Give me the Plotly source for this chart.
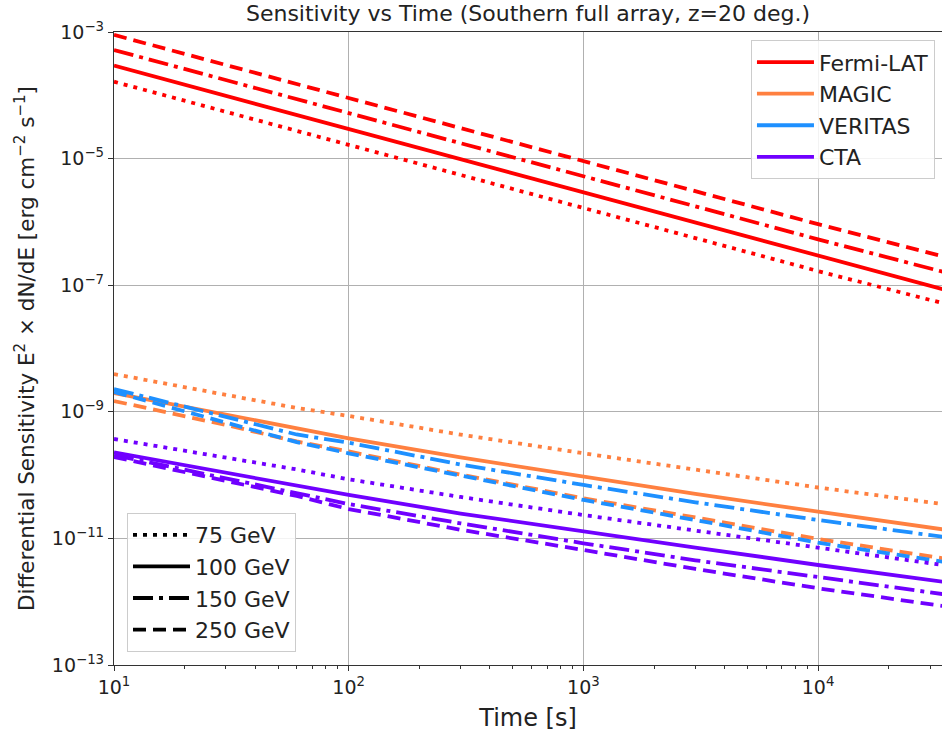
import plotly.graph_objects as go

# Observation time [s]
time_s = [10, 30, 60, 100, 300, 1000, 3000, 10000, 34000]

# Fermi-LAT
fermi_75 = [1.64e-4, 5.5e-5, 2.75e-5, 1.65e-5, 5.5e-6, 1.66e-6, 5.55e-7, 1.67e-7, 5.2e-8]
fermi_100 = [2.94e-4, 9.8e-5, 4.9e-5, 2.94e-5, 9.8e-6, 2.94e-6, 9.8e-7, 2.94e-7, 8.65e-8]
fermi_150 = [5.2e-4, 1.74e-4, 8.7e-5, 5.2e-5, 1.75e-5, 5.25e-6, 1.76e-6, 5.3e-7, 1.63e-7]
fermi_250 = [9.0e-4, 3.0e-4, 1.5e-4, 9.0e-5, 3.0e-5, 9.1e-6, 3.05e-6, 9.2e-7, 2.85e-7]

# MAGIC
magic_75 = [3.95e-9, 1.84e-9, 1.15e-9, 8.6e-10, 4.36e-10, 2.21e-10, 1.24e-10, 6.37e-11, 3.49e-11]
magic_100 = [1.98e-9, 8.9e-10, 5.35e-10, 3.81e-10, 1.90e-10, 9.5e-11, 5.03e-11, 2.64e-11, 1.39e-11]
magic_250 = [1.48e-9, 6.18e-10, 3.40e-10, 2.36e-10, 1.02e-10, 4.30e-11, 2.14e-11, 9.8e-12, 4.85e-12]

# VERITAS
veritas_150 = [2.29e-9, 8.37e-10, 4.38e-10, 3.25e-10, 1.47e-10, 6.98e-11, 3.72e-11, 1.95e-11, 1.06e-11]
veritas_250 = [2.06e-9, 6.65e-10, 3.33e-10, 2.21e-10, 9.7e-11, 4.05e-11, 1.95e-11, 8.55e-12, 4.28e-12]

# CTA
cta_75 = [3.72e-10, 1.88e-10, 1.23e-10, 8.59e-11, 4.51e-11, 2.34e-11, 1.32e-11, 6.98e-12, 3.80e-12]
cta_100 = [2.28e-10, 1.08e-10, 6.73e-11, 4.85e-11, 2.47e-11, 1.28e-11, 7.18e-12, 3.80e-12, 2.07e-12]
cta_150 = [2.08e-10, 8.83e-11, 5.21e-11, 3.49e-11, 1.73e-11, 8.37e-12, 4.51e-12, 2.43e-12, 1.32e-12]
cta_250 = [1.93e-10, 8.07e-11, 4.68e-11, 2.91e-11, 1.37e-11, 6.56e-12, 3.29e-12, 1.63e-12, 8.55e-13]

instruments = ["Fermi-LAT", "MAGIC", "VERITAS", "CTA"]
energies = ["75 GeV", "100 GeV", "150 GeV", "250 GeV"]

x_tick_vals = [10, 100, 1000, 10000]
x_tick_text = ["10<sup>1</sup>", "10<sup>2</sup>", "10<sup>3</sup>", "10<sup>4</sup>"]
y_tick_vals = [1e-3, 1e-5, 1e-7, 1e-9, 1e-11, 1e-13]
y_tick_text = ["10<sup>−3</sup>", "10<sup>−5</sup>", "10<sup>−7</sup>",
               "10<sup>−9</sup>", "10<sup>−11</sup>", "10<sup>−13</sup>"]

colors = {"Fermi-LAT": "#ff0000", "MAGIC": "#ff8040",
          "VERITAS": "#1e90ff", "CTA": "#7000ff"}
dashes = {"75 GeV": "4px,6px", "100 GeV": "solid",
          "150 GeV": "20px,6px,4px,6px", "250 GeV": "13px,7px"}

series = [
    ("Fermi-LAT", "75 GeV", fermi_75), ("Fermi-LAT", "100 GeV", fermi_100),
    ("Fermi-LAT", "150 GeV", fermi_150), ("Fermi-LAT", "250 GeV", fermi_250),
    ("MAGIC", "75 GeV", magic_75), ("MAGIC", "100 GeV", magic_100),
    ("MAGIC", "250 GeV", magic_250),
    ("VERITAS", "150 GeV", veritas_150), ("VERITAS", "250 GeV", veritas_250),
    ("CTA", "75 GeV", cta_75), ("CTA", "100 GeV", cta_100),
    ("CTA", "150 GeV", cta_150), ("CTA", "250 GeV", cta_250),
]

LW = 3.8
fig = go.Figure()
for inst, en, vals in series:
    fig.add_trace(go.Scatter(x=time_s, y=vals, mode="lines",
                             line=dict(color=colors[inst], width=LW, dash=dashes[en]),
                             showlegend=False, name=f"{inst} {en}"))

for inst in instruments:
    fig.add_trace(go.Scatter(x=[None], y=[None], mode="lines", name=inst,
                             line=dict(color=colors[inst], width=LW),
                             legend="legend", legendgroup=inst))
for en in energies:
    fig.add_trace(go.Scatter(x=[None], y=[None], mode="lines", name=en,
                             line=dict(color="black", width=LW, dash=dashes[en]),
                             legend="legend2", legendgroup=en))

minor_x = [v * m for v in [10, 100, 1000, 10000] for m in range(2, 10)]

L, R, T, B = 114, 0, 32, 75
W, H = 942, 740
fig.update_layout(
    width=W, height=H,
    margin=dict(l=L, r=R, t=T, b=B),
    paper_bgcolor="white", plot_bgcolor="white",
    font=dict(family="DejaVu Sans", size=19, color="#222"),
    title=dict(text="Sensitivity vs Time (Southern full array, z=20 deg.)",
               x=(L + (W - R)) / 2 / W, xanchor="center",
               y=1 - 13 / H, yanchor="middle",
               font=dict(size=22, color="#222")),
    xaxis=dict(type="log", range=[1, 4.528],
               tickvals=x_tick_vals, ticktext=x_tick_text,
               ticks="outside", ticklen=5, tickwidth=1, tickcolor="#333",
               showline=True, linecolor="#333", linewidth=1.3, mirror=True,
               showgrid=True, gridcolor="#b0b0b0", gridwidth=1,
               zeroline=False,
               minor=dict(tickvals=minor_x, ticks="outside", ticklen=3,
                          tickcolor="#333", showgrid=False),
               title=dict(text="Time [s]", font=dict(size=24), standoff=12),
               tickfont=dict(size=19)),
    yaxis=dict(type="log", range=[-13, -3],
               tickvals=y_tick_vals, ticktext=y_tick_text,
               ticks="outside", ticklen=5, tickwidth=1, tickcolor="#333",
               showline=True, linecolor="#333", linewidth=1.3, mirror=True,
               showgrid=True, gridcolor="#b0b0b0", gridwidth=1,
               zeroline=False,
               title=dict(text="Differential Sensitivity E<sup>2</sup> × dN/dE [erg cm<sup>−2</sup> s<sup>−1</sup>]",
                          font=dict(size=21.5), standoff=11),
               tickfont=dict(size=19)),
    legend=dict(x=0.9915, xanchor="right", y=0.987, yanchor="top",
                bgcolor="rgba(255,255,255,0.85)", bordercolor="#cccccc",
                borderwidth=1, font=dict(size=22), tracegroupgap=0,
                itemwidth=57),
    legend2=dict(x=0.0157, xanchor="left", y=0.0205, yanchor="bottom",
                 bgcolor="rgba(255,255,255,0.85)", bordercolor="#cccccc",
                 borderwidth=1, font=dict(size=22), tracegroupgap=0,
                 itemwidth=57),
)

fig.write_html("out.html", config={"displayModeBar": False},
               post_script="document.body.style.margin='0';document.body.style.overflow='hidden';")
